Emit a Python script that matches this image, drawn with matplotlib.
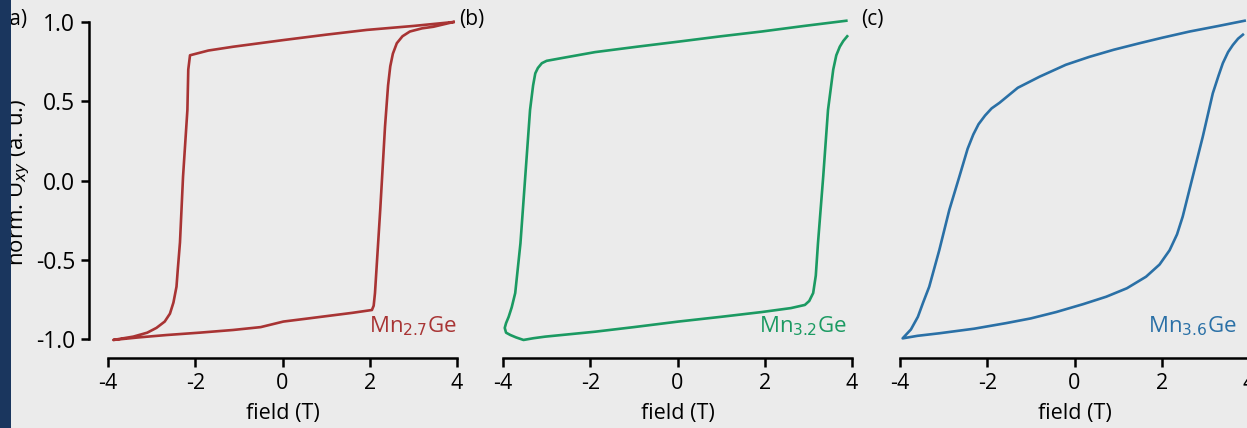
import matplotlib
matplotlib.use("Agg")
import matplotlib.pyplot as plt
from matplotlib.patches import Rectangle

plt.rcParams['font.family'] = ['Open Sans', 'DejaVu Sans']
plt.rcParams['axes.unicode_minus'] = False

# ---- data (field in T, normalized U_xy) ----
# each loop: down sweep (+4 -> -4) followed by up sweep (-4 -> +4)
mn27_field = [3.92, 3.0, 1.93, 1.0, 0.02, -1.13, -1.7, -2.12, -2.16, -2.18, -2.28, -2.35, -2.40, -2.43,
              -2.50, -2.58, -2.70, -2.89, -3.10, -3.42, -3.88,
              -3.3, -2.66, -1.9, -1.13, -0.5, 0.02, 0.6, 1.17, 1.6, 2.05, 2.09, 2.12, 2.24, 2.35,
              2.42, 2.47, 2.53, 2.62, 2.75, 2.92, 3.2, 3.46, 3.92]
mn27_u = [1.00, 0.975, 0.95, 0.92, 0.886, 0.844, 0.82, 0.79, 0.70, 0.445, 0.024, -0.39, -0.56, -0.67,
          -0.77, -0.84, -0.89, -0.93, -0.96, -0.985, -1.006,
          -0.99, -0.975, -0.96, -0.943, -0.925, -0.89, -0.87, -0.85, -0.835, -0.817, -0.79, -0.71, -0.186, 0.34,
          0.60, 0.72, 0.80, 0.866, 0.91, 0.94, 0.96, 0.97, 1.0]

mn32_field = [3.87, 2.9, 1.93, 1.0, 0.02, -0.9, -1.89, -2.6, -3.0, -3.11, -3.20, -3.26, -3.31, -3.38,
              -3.49, -3.60, -3.72, -3.80, -3.87, -3.93, -3.96, -3.93, -3.83, -3.70, -3.53, -3.30,
              -3.03, -1.89, -1.0, 0.02, 1.0, 1.93, 2.6, 2.92, 3.02, 3.11, 3.17, 3.22, 3.34, 3.45,
              3.57, 3.64, 3.72, 3.80, 3.89]
mn32_u = [1.008, 0.975, 0.94, 0.91, 0.876, 0.845, 0.81, 0.775, 0.755, 0.74, 0.71, 0.676, 0.60, 0.445,
          0.024, -0.396, -0.71, -0.80, -0.86, -0.90, -0.93, -0.96, -0.975, -0.99, -1.006, -0.995,
          -0.985, -0.954, -0.925, -0.89, -0.86, -0.83, -0.805, -0.785, -0.76, -0.71, -0.60, -0.396, 0.024, 0.445,
          0.70, 0.79, 0.844, 0.88, 0.91]

mn36_field = [3.90, 3.3, 2.64, 2.0, 1.49, 0.9, 0.34, -0.2, -0.80, -1.3, -1.72, -1.90, -2.05, -2.20,
              -2.32, -2.45, -2.64, -2.87, -3.10, -3.33, -3.47, -3.59, -3.75, -3.94,
              -3.60, -3.10, -2.3, -1.57, -1.0, -0.42, 0.2, 0.73, 1.2, 1.64, 1.95, 2.18, 2.35, 2.48,
              2.71, 2.94, 3.17, 3.30, 3.40, 3.52, 3.63, 3.75, 3.86]
mn36_u = [1.008, 0.975, 0.94, 0.90, 0.866, 0.825, 0.78, 0.73, 0.655, 0.585, 0.49, 0.455, 0.41, 0.355,
          0.29, 0.20, 0.024, -0.186, -0.44, -0.67, -0.77, -0.86, -0.94, -0.996,
          -0.98, -0.964, -0.935, -0.90, -0.87, -0.83, -0.78, -0.733, -0.68, -0.607, -0.53, -0.44, -0.34, -0.228,
          0.024, 0.276, 0.55, 0.66, 0.74, 0.81, 0.855, 0.895, 0.92]

samples = ["Mn$_{2.7}$Ge", "Mn$_{3.2}$Ge", "Mn$_{3.6}$Ge"]
panel_tags = ["(a)", "(b)", "(c)"]
x_ticks = [-4, -2, 0, 2, 4]
y_ticks = [-1.0, -0.5, 0.0, 0.5, 1.0]
y_ticklabels = ["-1.0", "-0.5", "0.0", "0.5", "1.0"]

series = [(mn27_field, mn27_u), (mn32_field, mn32_u), (mn36_field, mn36_u)]
colors = ["#a83434", "#1b9a62", "#2a70a6"]

W, H = 1247, 428
fig = plt.figure(figsize=(W / 100, H / 100), dpi=100)
fig.patch.set_facecolor("#ebebeb")

# pixel positions of x=-4 for each panel, width for 8 T
x_left = [108, 503, 900]
x_width = 349
y_top, y_bot = 22, 339
label_x = [1.0, 0.985, 0.965]

for i, ((fx, fu), c) in enumerate(zip(series, colors)):
    ax = fig.add_axes([x_left[i] / W, (H - y_bot) / H, x_width / W, (y_bot - y_top) / H])
    ax.set_facecolor("none")
    ax.plot(fx, fu, color=c, lw=1.9, clip_on=False, solid_joinstyle="round")
    ax.set_xlim(-4, 4)
    ax.set_ylim(-1, 1)
    for s in ["top", "right"]:
        ax.spines[s].set_visible(False)
    ax.spines["bottom"].set_position(("outward", 14))
    ax.spines["bottom"].set_bounds(-4, 4)
    ax.spines["bottom"].set_linewidth(1.8)
    ax.set_xticks(x_ticks)
    ax.set_xticklabels([str(t) for t in x_ticks])
    ax.tick_params(axis="x", direction="out", length=6.5, width=1.8, labelsize=15.5, pad=4)
    ax.set_xlabel("field (T)", fontsize=15.5, labelpad=6.5)
    if i == 0:
        ax.spines["left"].set_position(("outward", 13.5))
        ax.spines["left"].set_bounds(-1, 1)
        ax.spines["left"].set_linewidth(1.8)
        ax.set_yticks(y_ticks)
        ax.set_yticklabels(y_ticklabels)
        ax.tick_params(axis="y", direction="out", length=6, width=1.8, labelsize=16.5, pad=4)
    else:
        ax.spines["left"].set_visible(False)
        ax.set_yticks([])
    ax.text(label_x[i], 0.04, samples[i], transform=ax.transAxes, ha="right", va="center",
            color=c, fontsize=16)

fig.text(18.5 / W, 1 - 182 / H, "norm. U$_{xy}$ (a. u.)", rotation=90, ha="center", va="center",
         fontsize=16)

tag_pos = [(3, 20), (459, 20), (861, 20)]
for t, (px, py) in zip(panel_tags, tag_pos):
    fig.text(px / W, 1 - py / H, t, ha="left", va="center", fontsize=15)

fig.patches.append(Rectangle((0, 0), 11 / W, 1, transform=fig.transFigure,
                             facecolor="#1a365e", edgecolor="none", zorder=10))

fig.savefig("out.png", dpi=100, facecolor=fig.get_facecolor())
